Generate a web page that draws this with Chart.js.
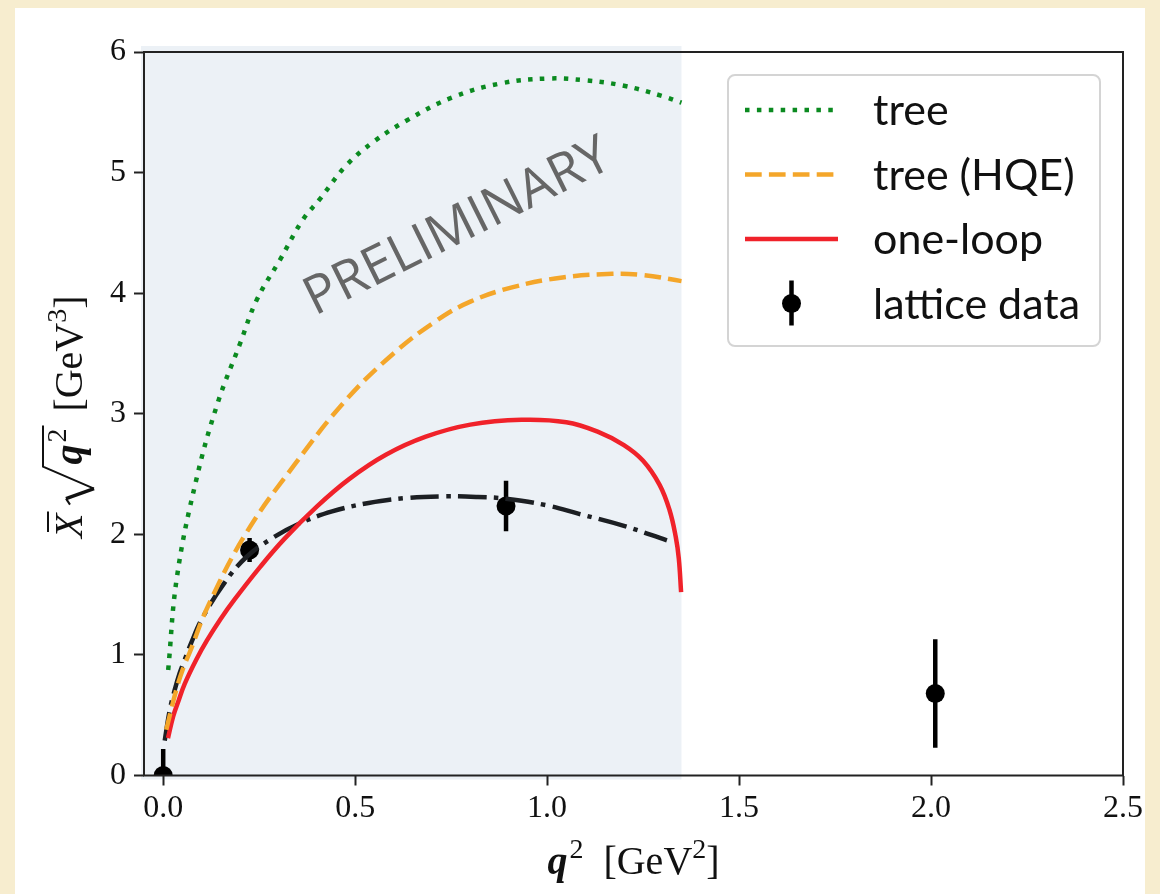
<!DOCTYPE html>
<html>
<head>
<meta charset="utf-8">
<script src="https://cdn.jsdelivr.net/npm/chart.js@4.4.1/dist/chart.umd.min.js"></script>
<style>
  html, body { margin: 0; padding: 0; }
  body { width: 1160px; height: 894px; background: #f7edcf; position: relative; overflow: hidden; }
  #card { position: absolute; left: 15px; top: 8px; width: 1130px; height: 886px; background: #fff; }
  #plot { position: absolute; left: 0; top: 0; }
</style>
</head>
<body>
<div id="card"></div>
<canvas id="plot" width="1160" height="894"></canvas>
<script>
// tree-level curve
const treeQ2   = [0.013, 0.036, 0.086, 0.141, 0.2, 0.243, 0.303, 0.364, 0.408, 0.477, 0.55, 0.633, 0.75, 0.88, 1.0, 1.1, 1.2, 1.3, 1.35];
const treeVals = [0.875, 1.65, 2.45, 3.08, 3.58, 3.94, 4.27, 4.61, 4.78, 5.06, 5.26, 5.43, 5.62, 5.74, 5.78, 5.765, 5.72, 5.635, 5.58];

// tree-level, heavy quark expansion
const hqeQ2   = [0.008, 0.034, 0.052, 0.069, 0.116, 0.216, 0.345, 0.475, 0.6, 0.711, 0.8, 0.911, 1.04, 1.17, 1.25, 1.35];
const hqeVals = [0.38, 0.71, 0.89, 1.02, 1.40, 2.01, 2.59, 3.11, 3.50, 3.77, 3.93, 4.05, 4.13, 4.16, 4.15, 4.10];

// one-loop curve
const loopQ2   = [0.0125, 0.026, 0.04, 0.056, 0.086, 0.114, 0.15, 0.186, 0.25, 0.315, 0.4, 0.485, 0.58, 0.684, 0.8, 0.933, 1.05, 1.133, 1.2, 1.25, 1.293, 1.319, 1.335, 1.343, 1.349];
const loopVals = [0.31, 0.49, 0.62, 0.76, 0.96, 1.12, 1.30, 1.46, 1.72, 1.96, 2.23, 2.46, 2.66, 2.81, 2.91, 2.95, 2.93, 2.85, 2.74, 2.61, 2.41, 2.20, 1.98, 1.80, 1.52];

// fit through the lattice points
const fitQ2   = [0.004, 0.017, 0.03, 0.043, 0.056, 0.073, 0.101, 0.16, 0.216, 0.28, 0.355, 0.44, 0.535, 0.63, 0.734, 0.82, 0.893, 1.0, 1.083, 1.2, 1.312];
const fitVals = [0.29, 0.54, 0.71, 0.85, 0.96, 1.10, 1.30, 1.60, 1.81, 1.96, 2.09, 2.19, 2.26, 2.30, 2.315, 2.31, 2.295, 2.24, 2.17, 2.07, 1.95];

// lattice data with symmetric errors
const latticeQ2   = [0.0, 0.225, 0.893, 2.011];
const latticeVals = [0.0, 1.87, 2.235, 0.68];
const latticeErr  = [0.22, 0.10, 0.21, 0.45];

const xTicks = [0, 0.5, 1.0, 1.5, 2.0, 2.5];
const yTicks = [0, 1, 2, 3, 4, 5, 6];
const shadeEnd = 1.35;

const toPoints = (xs, ys) => xs.map((x, i) => ({ x, y: ys[i] }));

const SERIF = '"Liberation Serif", "DejaVu Serif", serif';
const SANS = 'Lato, "Open Sans", sans-serif';
const LW = 4.5;

const curve = (label, xs, ys, color, dash) => ({
  label,
  data: toPoints(xs, ys),
  showLine: true,
  borderColor: color,
  backgroundColor: color,
  borderWidth: LW,
  borderDash: dash,
  borderCapStyle: 'butt',
  borderJoinStyle: 'round',
  tension: 0.4,
  pointRadius: 0,
  pointHoverRadius: 0
});

// light band over the region covered by the curves
const shadePlugin = {
  id: 'shade',
  beforeDraw(chart) {
    const { ctx, chartArea, scales } = chart;
    const xEnd = scales.x.getPixelForValue(shadeEnd);
    ctx.save();
    ctx.fillStyle = '#ecf1f6';
    ctx.fillRect(chartArea.left - 3, chartArea.top - 6, xEnd - chartArea.left + 3, chartArea.bottom - chartArea.top + 10);
    ctx.restore();
  }
};

// vertical error bars under the markers
const errorBarPlugin = {
  id: 'errorBars',
  beforeDatasetDraw(chart, args) {
    const ds = chart.data.datasets[args.index];
    if (!ds.errors) return;
    const { ctx, chartArea, scales } = chart;
    ctx.save();
    ctx.beginPath();
    ctx.rect(chartArea.left, chartArea.top, chartArea.width, chartArea.height);
    ctx.clip();
    ctx.strokeStyle = ds.borderColor;
    ctx.lineWidth = 4.5;
    ds.data.forEach((p, i) => {
      const px = scales.x.getPixelForValue(p.x);
      ctx.beginPath();
      ctx.moveTo(px, scales.y.getPixelForValue(p.y - ds.errors[i]));
      ctx.lineTo(px, scales.y.getPixelForValue(p.y + ds.errors[i]));
      ctx.stroke();
    });
    ctx.restore();
  }
};

function drawYLabel(ctx, bx, cy) {
  const fs = 40;
  const fMain = `${fs}px ${SERIF}`;
  const fItal = `italic ${fs}px ${SERIF}`;
  const fBold = `italic bold ${fs}px ${SERIF}`;
  const fSup = `${Math.round(fs * 0.7)}px ${SERIF}`;
  ctx.save();
  ctx.translate(bx, cy);
  ctx.rotate(-Math.PI / 2);
  ctx.fillStyle = '#111';
  ctx.strokeStyle = '#111';
  ctx.textBaseline = 'alphabetic';
  ctx.textAlign = 'left';
  ctx.font = fItal; const wX = ctx.measureText('X').width;
  ctx.font = fBold; const wq = ctx.measureText('q').width;
  ctx.font = fSup; const w2 = ctx.measureText('2').width; const w3 = ctx.measureText('3').width;
  ctx.font = fMain; const wGeV = ctx.measureText('[GeV').width; const wB = ctx.measureText(']').width;
  const gap1 = 9, wRad = 38, gap2 = 14;
  const total = wX + gap1 + wRad + 2 + wq + 2 + w2 + 3 + gap2 + wGeV + w3 + wB;
  let x = -total / 2;
  // X with bar
  ctx.font = fItal;
  ctx.fillText('X', x, 0);
  ctx.lineWidth = 2;
  ctx.beginPath();
  ctx.moveTo(x + 6, -34); ctx.lineTo(x + wX + 2, -34);
  ctx.stroke();
  x += wX + gap1;
  // radical sign
  const rx = x;
  const lineEnd = rx + wRad + 2 + wq + 2 + w2 + 3;
  ctx.lineWidth = 2;
  ctx.beginPath();
  ctx.moveTo(rx, -12); ctx.lineTo(rx + 6, -16);
  ctx.stroke();
  ctx.lineWidth = 3.6;
  ctx.beginPath();
  ctx.moveTo(rx + 6, -16); ctx.lineTo(rx + 16, 12);
  ctx.stroke();
  ctx.lineWidth = 2;
  ctx.beginPath();
  ctx.moveTo(rx + 16, 12); ctx.lineTo(rx + wRad, -39); ctx.lineTo(lineEnd, -39);
  ctx.stroke();
  x += wRad + 2;
  ctx.font = fBold;
  ctx.fillText('q', x, 0);
  x += wq + 2;
  ctx.font = fSup;
  ctx.fillText('2', x, -16);
  x += w2 + 3 + gap2;
  ctx.font = fMain;
  ctx.fillText('[GeV', x, 0);
  x += wGeV;
  ctx.font = fSup;
  ctx.fillText('3', x, -16);
  x += w3;
  ctx.font = fMain;
  ctx.fillText(']', x, 0);
  ctx.restore();
}

function drawXLabel(ctx, cx, by) {
  const fs = 40;
  const fMain = `${fs}px ${SERIF}`;
  const fBold = `italic bold ${fs}px ${SERIF}`;
  const fSup = `${Math.round(fs * 0.7)}px ${SERIF}`;
  ctx.save();
  ctx.fillStyle = '#111';
  ctx.textBaseline = 'alphabetic';
  ctx.textAlign = 'left';
  ctx.font = fBold; const wq = ctx.measureText('q').width;
  ctx.font = fSup; const w2 = ctx.measureText('2').width;
  ctx.font = fMain; const wGeV = ctx.measureText('[GeV').width; const wB = ctx.measureText(']').width;
  const gap = 20;
  const total = wq + 2 + w2 + gap + wGeV + w2 + wB;
  let x = cx - total / 2;
  ctx.font = fBold; ctx.fillText('q', x, by); x += wq + 2;
  ctx.font = fSup; ctx.fillText('2', x, by - 16); x += w2 + gap;
  ctx.font = fMain; ctx.fillText('[GeV', x, by); x += wGeV;
  ctx.font = fSup; ctx.fillText('2', x, by - 16); x += w2;
  ctx.font = fMain; ctx.fillText(']', x, by);
  ctx.restore();
}

// frame, watermark, axis titles and legend
const decorPlugin = {
  id: 'decor',
  afterDatasetsDraw(chart) {
    const { ctx, chartArea, scales } = chart;
    ctx.save();
    ctx.translate(scales.x.getPixelForValue(0.785), scales.y.getPixelForValue(4.43));
    ctx.rotate(-26.5 * Math.PI / 180);
    ctx.font = `53px "Open Sans", Lato, sans-serif`;
    ctx.fillStyle = '#666666';
    ctx.textAlign = 'center';
    ctx.textBaseline = 'alphabetic';
    ctx.fillText('PRELIMINARY', 0, 0);
    ctx.restore();

    ctx.save();
    ctx.strokeStyle = '#222';
    ctx.lineWidth = 2;
    ctx.strokeRect(chartArea.left, chartArea.top, chartArea.width, chartArea.height);
    ctx.restore();
  },
  afterDraw(chart) {
    const { ctx, chartArea } = chart;
    drawYLabel(ctx, 82, (chartArea.top + chartArea.bottom) / 2 + 3);
    drawXLabel(ctx, (chartArea.left + chartArea.right) / 2, 874);

    // legend
    const box = { l: 728, t: 75, r: 1100, b: 346 };
    ctx.save();
    ctx.beginPath();
    ctx.roundRect(box.l, box.t, box.r - box.l, box.b - box.t, 7);
    ctx.fillStyle = 'rgba(255,255,255,0.85)';
    ctx.fill();
    ctx.strokeStyle = '#d4d4d4';
    ctx.lineWidth = 2;
    ctx.stroke();
    const items = chart.data.datasets.filter(d => d.label);
    const x0 = 745, x1 = 838, tx = 873;
    items.forEach((ds, i) => {
      const ry = 110 + i * 64.5;
      ctx.save();
      if (ds.errors) {
        const cx = (x0 + x1) / 2;
        ctx.strokeStyle = ds.borderColor;
        ctx.lineWidth = 4.5;
        ctx.beginPath();
        ctx.moveTo(cx, ry - 23); ctx.lineTo(cx, ry + 22);
        ctx.stroke();
        ctx.fillStyle = ds.backgroundColor;
        ctx.beginPath();
        ctx.arc(cx, ry, ds.pointRadius, 0, Math.PI * 2);
        ctx.fill();
      } else {
        ctx.strokeStyle = ds.borderColor;
        ctx.lineWidth = ds.borderWidth;
        ctx.lineCap = 'butt';
        ctx.setLineDash(ds.borderDash || []);
        ctx.beginPath();
        ctx.moveTo(x0, ry); ctx.lineTo(x1, ry);
        ctx.stroke();
      }
      ctx.restore();
      ctx.fillStyle = '#111';
      ctx.font = `43px ${SANS}`;
      ctx.textAlign = 'left';
      ctx.textBaseline = 'alphabetic';
      ctx.fillText(ds.label, tx, ry + 15);
    });
    ctx.restore();
  }
};

new Chart(document.getElementById('plot'), {
  type: 'scatter',
  data: {
    datasets: [
      curve('tree', treeQ2, treeVals, '#0b8a20', [4.5, 7.4]),
      curve('tree (HQE)', hqeQ2, hqeVals, '#f4a62a', [16.7, 7.2]),
      curve('one-loop', loopQ2, loopVals, '#f0222a', []),
      curve('', fitQ2, fitVals, '#1c1f23', [28.8, 7.2, 4.5, 7.2]),
      {
        label: 'lattice data',
        data: toPoints(latticeQ2, latticeVals),
        errors: latticeErr,
        showLine: false,
        borderColor: '#000',
        backgroundColor: '#000',
        pointRadius: 9.5,
        pointBorderWidth: 0,
        pointHoverRadius: 9.5,
        clip: 0
      }
    ]
  },
  options: {
    responsive: false,
    animation: false,
    events: [],
    devicePixelRatio: 1,
    layout: { padding: { left: 64, right: 37, top: 52, bottom: 18.5 } },
    plugins: {
      legend: { display: false },
      tooltip: { enabled: false }
    },
    scales: {
      x: {
        type: 'linear',
        min: -0.05,
        max: 2.5,
        afterBuildTicks: s => { s.ticks = xTicks.map(v => ({ value: v })); },
        afterFit: s => { s.height = 100; },
        border: { display: false },
        grid: { drawOnChartArea: false, drawTicks: true, tickLength: 10, tickWidth: 2, tickColor: '#222' },
        ticks: {
          font: { family: SERIF, size: 32 },
          color: '#111',
          padding: 4,
          maxRotation: 0,
          autoSkip: false,
          callback: v => Number(v).toFixed(1)
        }
      },
      y: {
        type: 'linear',
        min: 0,
        max: 6,
        afterBuildTicks: s => { s.ticks = yTicks.map(v => ({ value: v })); },
        afterFit: s => { s.width = 80; },
        border: { display: false },
        grid: { drawOnChartArea: false, drawTicks: true, tickLength: 10, tickWidth: 2, tickColor: '#222' },
        ticks: {
          font: { family: SERIF, size: 32 },
          color: '#111',
          padding: 8,
          autoSkip: false,
          callback: v => String(v)
        }
      }
    }
  },
  plugins: [shadePlugin, errorBarPlugin, decorPlugin]
});
</script>
</body>
</html>
